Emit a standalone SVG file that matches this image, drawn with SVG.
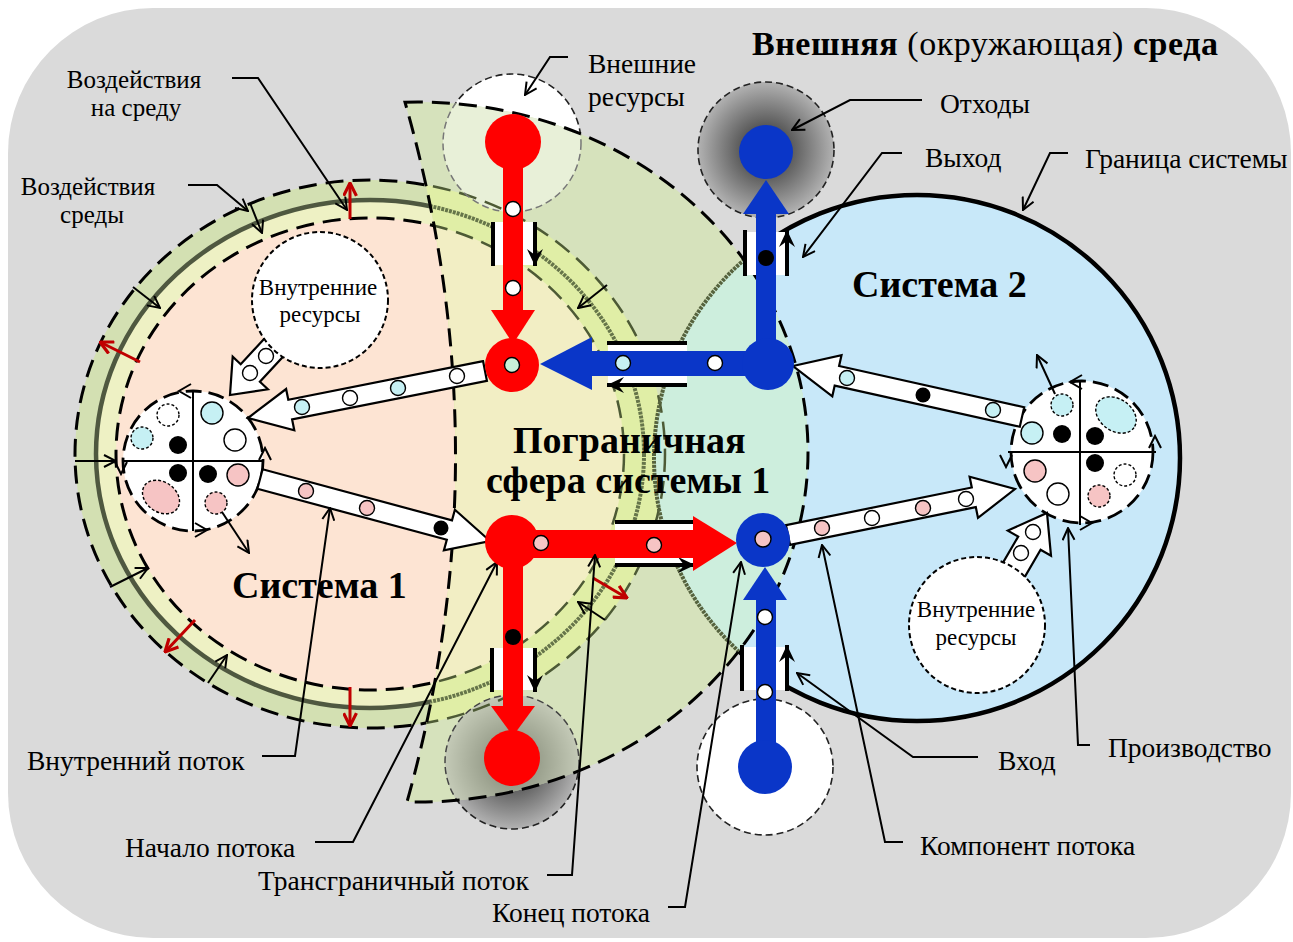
<svg xmlns="http://www.w3.org/2000/svg" width="1293" height="942" viewBox="0 0 1293 942">
<defs>
<style>
.lbl{font-family:"Liberation Serif","Times New Roman",serif;font-size:27.5px;fill:#000}
.lb2{font-family:"Liberation Serif","Times New Roman",serif;font-size:25px;fill:#000}
.res{font-family:"Liberation Serif","Times New Roman",serif;font-size:23px;fill:#000}
.bold{font-family:"Liberation Serif","Times New Roman",serif;font-weight:bold;font-size:38px;fill:#000}
.lead{fill:none;stroke:#000;stroke-width:2;marker-end:url(#arrV)}
.red{fill:none;stroke:#c00000;stroke-width:3;marker-end:url(#arrR)}
.par{fill:none;stroke:#000;stroke-width:4;marker-end:url(#arrT)}
.blk{fill:#fff;stroke:#000;stroke-width:2.2;stroke-linejoin:miter}
.sm{stroke:#000;stroke-width:1.4}
.w{fill:#fff}.c{fill:#c6f0f4}.p{fill:#f6c4c4}.k{fill:#000}
.dd{stroke-dasharray:3 2}
.rot{fill:none;stroke:#000;stroke-width:2}
.proc{fill:#fff;stroke:#000;stroke-width:2.8;stroke-dasharray:16 7}
.ires{fill:#fff;stroke:#000;stroke-width:2;stroke-dasharray:5 3}
.ext{stroke:#222;stroke-width:1.6;stroke-dasharray:7 4}
.rd{fill:#ff0000}.bl{fill:#0a36c8}
</style>
<marker id="arrV" viewBox="0 0 14 14" refX="13" refY="7" markerWidth="14" markerHeight="14" markerUnits="userSpaceOnUse" orient="auto"><path d="M1,1 L13,7 L1,13" fill="none" stroke="#000" stroke-width="2"/></marker>
<marker id="arrR" viewBox="0 0 14 14" refX="13" refY="7" markerWidth="15" markerHeight="15" markerUnits="userSpaceOnUse" orient="auto"><path d="M1,1 L13,7 L1,13" fill="none" stroke="#c00000" stroke-width="3"/></marker>
<marker id="arrT" viewBox="0 0 18 18" refX="17" refY="9" markerWidth="18" markerHeight="18" markerUnits="userSpaceOnUse" orient="auto"><path d="M0,1 L17,9 L0,17 L6,9 Z" fill="#000"/></marker>
<radialGradient id="waste" cx="0.5" cy="0.5" r="0.5"><stop offset="0" stop-color="#262626"/><stop offset="0.5" stop-color="#6c6c6c"/><stop offset="1" stop-color="#b2b2b2"/></radialGradient>
<clipPath id="sph"><path d="M405,102.2 A390,350 0 0,1 808,452 A390,350 0 0,1 407,801.9 Q505,452 405,102.2 Z"/></clipPath>
</defs>

<rect width="1293" height="942" fill="#fff"/>
<rect id="environment" x="8" y="8" width="1283" height="930" rx="145" ry="145" fill="#dadada"/>

<g id="system1">
<ellipse cx="370" cy="454" rx="295" ry="274" fill="#d3e0b2"/>
<ellipse cx="370" cy="454" rx="274" ry="254" fill="#eef1c4"/>
<ellipse cx="370" cy="454" rx="254" ry="236" fill="#fde4d3"/>
<ellipse cx="370" cy="454" rx="274" ry="254" fill="none" stroke="#4f5840" stroke-width="4.5"/>
<ellipse cx="370" cy="454" rx="295" ry="274" fill="none" stroke="#000" stroke-width="3" stroke-dasharray="18 9"/>
<ellipse cx="370" cy="454" rx="254" ry="236" fill="none" stroke="#000" stroke-width="3" stroke-dasharray="18 9"/>
</g>

<g id="system2">
<circle cx="917" cy="458" r="263" fill="#c8e8f9" stroke="#000" stroke-width="4.5"/>
</g>

<g id="external-resources">
<circle cx="512" cy="143" r="69" fill="#fff" class="ext"/>
</g>
<g id="waste-top">
<circle cx="766" cy="150" r="68" fill="url(#waste)" class="ext"/>
</g>
<g id="waste-bottom">
<circle cx="512" cy="762" r="67" fill="url(#waste)" class="ext"/>
</g>
<g id="input-resources">
<circle cx="765" cy="767" r="68" fill="#fff" class="ext"/>
</g>

<g id="boundary-sphere">
<g clip-path="url(#sph)">
<rect x="0" y="0" width="1293" height="942" fill="#d6e2bc"/>
<ellipse cx="370" cy="454" rx="295" ry="274" fill="#e0eea6"/>
<ellipse cx="370" cy="454" rx="254" ry="236" fill="#f2eec4"/>
<circle cx="917" cy="458" r="263" fill="#cdeedd"/>
<circle cx="512" cy="143" r="69" fill="#e8f0d8"/>
<circle cx="512" cy="762" r="67" fill="url(#waste)"/>
<circle cx="512" cy="762" r="67" fill="#d6e2bc" opacity="0.5"/>
<ellipse cx="370" cy="454" rx="274" ry="254" fill="none" stroke="#66754a" stroke-width="4" stroke-dasharray="3 1"/>
<ellipse cx="370" cy="454" rx="295" ry="274" fill="none" stroke="#4d5a35" stroke-width="2.5" stroke-dasharray="18 9"/>
<ellipse cx="370" cy="454" rx="254" ry="236" fill="none" stroke="#4d5a35" stroke-width="2.5" stroke-dasharray="18 9"/>
<circle cx="917" cy="458" r="263" fill="none" stroke="#56633e" stroke-width="4" stroke-dasharray="3 1"/>
<circle cx="512" cy="143" r="69" fill="none" stroke="#777" stroke-width="1.5" stroke-dasharray="7 4"/>
<circle cx="512" cy="762" r="67" fill="none" stroke="#444" stroke-width="1.5" stroke-dasharray="7 4"/>
</g>
<path d="M405,102.2 A390,350 0 0,1 808,452 A390,350 0 0,1 407,801.9 Q505,452 405,102.2 Z" fill="none" stroke="#000" stroke-width="3" stroke-dasharray="18 9"/>
</g>

<g id="process1">
<circle cx="193" cy="461" r="70" class="proc"/>
<path d="M123,461 H263 M193,391 V531" stroke="#000" stroke-width="2"/>
<path class="rot" d="M191,384 L179,391 L191,398 M259,460 L265,448 L271,460 M195,523 L207,530 L195,537 M115,462 L121,474 L127,462"/>
<circle cx="168" cy="415" r="11" class="w sm dd"/>
<circle cx="142" cy="438" r="11" class="c sm dd"/>
<circle cx="178" cy="445" r="9" class="k"/>
<circle cx="212" cy="413" r="11" class="c sm"/>
<circle cx="235" cy="440" r="11" class="w sm"/>
<circle cx="178" cy="473" r="9" class="k"/>
<ellipse cx="161" cy="497" rx="20" ry="15" transform="rotate(35 161 497)" class="p sm dd"/>
<circle cx="208" cy="474" r="9" class="k"/>
<circle cx="238" cy="475" r="11" class="p sm"/>
<circle cx="216" cy="503" r="11" class="p sm dd"/>
<path class="lead" d="M222,512 L249,553"/>
</g>

<g id="process2">
<circle cx="1082" cy="452" r="71" class="proc"/>
<path d="M1008,452 H1156 M1080,380 V525" stroke="#000" stroke-width="2"/>
<path class="rot" d="M1082,375 L1070,382 L1082,389 M1149,448 L1155,436 L1161,448 M1080,516 L1092,523 L1080,530 M1000,455 L1006,467 L1012,455"/>
<circle cx="1062" cy="405" r="11" class="c sm dd"/>
<circle cx="1032" cy="433" r="11" class="c sm"/>
<circle cx="1062" cy="434" r="9" class="k"/>
<ellipse cx="1116" cy="415" rx="22" ry="16" transform="rotate(35 1116 415)" class="c sm dd"/>
<circle cx="1095" cy="436" r="9" class="k"/>
<circle cx="1035" cy="471" r="11" class="p sm"/>
<circle cx="1058" cy="494" r="11" class="w sm"/>
<circle cx="1095" cy="463" r="9" class="k"/>
<circle cx="1125" cy="475" r="11" class="w sm dd"/>
<circle cx="1099" cy="496" r="11" class="p sm dd"/>
<path class="lead" d="M1055,394 L1037,355"/>
</g>

<g id="connectors">
<polygon class="blk" points="268.4,334.2 240.7,364.2 232.7,356.7 230,395 267.9,389.3 259.9,381.8 287.6,351.8"/>
<circle cx="266" cy="356" r="7.5" class="w sm"/>
<circle cx="250" cy="373" r="7.5" class="w sm"/>
<polygon class="blk" points="1016.2,591.6 1040.6,549.8 1051,555.8 1047,513 1007.8,530.6 1018.2,536.6 993.8,578.4"/>
<circle cx="1021" cy="553" r="7.5" class="w sm"/>
<circle cx="1033" cy="532" r="7.5" class="w sm"/>
<polygon class="blk" points="483.1,361.2 288.3,399.8 286.1,389.0 248,418 294.3,430.2 292.1,419.4 486.9,380.8"/>
<circle cx="302" cy="407" r="7.5" class="c sm"/>
<circle cx="350" cy="398" r="7.5" class="w sm"/>
<circle cx="398" cy="388" r="7.5" class="c sm"/>
<circle cx="457" cy="376" r="7.5" class="w sm"/>
<polygon class="blk" points="257.4,488.7 446.8,539.8 443.9,550.4 490,541 454.9,509.8 452.0,520.4 262.6,469.3"/>
<circle cx="306" cy="491" r="7.5" class="p sm"/>
<circle cx="367" cy="508" r="7.5" class="p sm"/>
<circle cx="441" cy="528" r="7.5" class="k"/>
<polygon class="blk" points="1024.2,407.2 839.1,366.0 841.5,355.3 793,366 832.3,396.3 834.7,385.6 1019.8,426.8"/>
<circle cx="993" cy="410" r="7.5" class="c sm"/>
<circle cx="923" cy="395" r="7.5" class="k"/>
<circle cx="847" cy="378" r="7.5" class="c sm"/>
<polygon class="blk" points="790.0,544.8 975.8,507.1 978,517.9 1015,489 969.6,476.7 971.8,487.5 786.0,525.2"/>
<circle cx="822" cy="528" r="7.5" class="p sm"/>
<circle cx="872" cy="518" r="7.5" class="w sm"/>
<circle cx="923" cy="508" r="7.5" class="p sm"/>
<circle cx="966" cy="499" r="7.5" class="w sm"/>

<rect x="493" y="222" width="42" height="43" fill="#fff"/>
<rect x="745" y="232" width="42" height="43" fill="#fff"/>
<rect x="608" y="343" width="79" height="42" fill="#fff"/>
<rect x="615" y="522" width="78" height="43" fill="#fff"/>
<rect x="492" y="648" width="43" height="42" fill="#fff"/>
<rect x="742" y="647" width="45" height="43" fill="#fff"/>
<path class="par" d="M493,222 V266 M535,222 V266"/>
<path class="par" d="M745,276 V230 M787,276 V230"/>
<path class="par" d="M687,343 H607 M687,385 H607"/>
<path class="par" d="M615,522 H695 M615,565 H695"/>
<path class="par" d="M492,648 V692 M535,648 V692"/>
<path class="par" d="M742,691 V645 M787,691 V645"/>

<rect x="503" y="142" width="20" height="172" class="rd"/>
<polygon points="491,310 535,310 513,344" class="rd"/>
<rect x="756" y="200" width="20" height="164" class="bl"/>
<polygon points="743,214 789,214 766,180" class="bl"/>
<rect x="588" y="351" width="180" height="25" class="bl"/>
<polygon points="592,337 592,390 540,364" class="bl"/>
<rect x="512" y="530" width="183" height="28" class="rd"/>
<polygon points="693,516 693,571 737,543" class="rd"/>
<rect x="503" y="542" width="20" height="166" class="rd"/>
<polygon points="491,706 535,706 513,736" class="rd"/>
<rect x="756" y="600" width="20" height="167" class="bl"/>
<polygon points="743,600 787,600 765,567" class="bl"/>

<path class="red" d="M350,219 V183"/>
<path class="red" d="M140,362 L100,342"/>
<path class="red" d="M195,620 L165,652"/>
<path class="red" d="M350,687 V726"/>
<path class="red" d="M593,578 L627,598"/>
<path class="lead" d="M250,203 L262,233"/>
<path class="lead" d="M133,287 L160,308"/>
<path class="lead" d="M75,461 H116"/>
<path class="lead" d="M110,587 L148,568"/>
<path class="lead" d="M208,683 L227,655"/>
<path class="lead" d="M607,285 L578,308"/>
<path class="lead" d="M605,620 L578,602"/>

<path class="lead" d="M232,78 H258 L347,210"/>
<path class="lead" d="M188,185 H217 L248,211"/>
<path class="lead" d="M568,57 H550 L525,95"/>
<path class="lead" d="M922,100 H850 L792,130"/>
<path class="lead" d="M902,153 H882 L803,257"/>
<path class="lead" d="M1068,153 H1050 L1023,210"/>
<path class="lead" d="M1090,745 H1078 L1068,528"/>
<path class="lead" d="M978,757 H913 L797,673"/>
<path class="lead" d="M903,842 H885 L822,545"/>
<path class="lead" d="M668,907 H685 L741,562"/>
<path class="lead" d="M547,875 H572 L595,555"/>
<path class="lead" d="M315,842 H353 L497,562"/>
<path class="lead" d="M262,756 H295 L330,508"/>
</g>

<g id="nodes">
<circle cx="513" cy="142" r="28" class="rd"/>
<circle cx="512" cy="365" r="27" class="rd"/>
<circle cx="512" cy="365" r="7.5" fill="#c8f0d8" class="sm"/>
<circle cx="512" cy="542" r="27" class="rd"/>
<circle cx="512" cy="758" r="28" class="rd"/>
<circle cx="766" cy="152" r="27" class="bl"/>
<circle cx="768" cy="364" r="26" class="bl"/>
<circle cx="763" cy="540" r="27" class="bl"/>
<circle cx="763" cy="539" r="8" class="p sm"/>
<circle cx="765" cy="767" r="27" class="bl"/>
<circle cx="513" cy="209" r="7.5" class="w sm"/>
<circle cx="513" cy="288" r="7.5" class="w sm"/>
<circle cx="623" cy="363" r="7.5" class="c sm"/>
<circle cx="715" cy="363" r="7.5" class="w sm"/>
<circle cx="541" cy="543" r="7.5" class="p sm"/>
<circle cx="654" cy="545" r="7.5" class="p sm"/>
<circle cx="765" cy="617" r="7.5" class="w sm"/>
<circle cx="765" cy="692" r="7.5" class="w sm"/>
<circle cx="766" cy="258" r="8" class="k"/>
<circle cx="513" cy="637" r="8" class="k"/>
</g>

<g id="internal-resources-1">
<circle cx="320" cy="300" r="68" class="ires"/>
<text class="res" x="318" y="295" text-anchor="middle">Внутренние</text>
<text class="res" x="320" y="322" text-anchor="middle">ресурсы</text>
</g>
<g id="internal-resources-2">
<circle cx="977" cy="625" r="68" class="ires"/>
<text class="res" x="976" y="617" text-anchor="middle">Внутренние</text>
<text class="res" x="976" y="645" text-anchor="middle">ресурсы</text>
</g>

<g id="labels">
<text x="752" y="55" textLength="466" style="font-family:'Liberation Serif','Times New Roman',serif;font-size:34px"><tspan font-weight="bold">Внешняя</tspan> (окружающая) <tspan font-weight="bold">среда</tspan></text>
<text class="bold" x="232" y="598">Система 1</text>
<text class="bold" x="852" y="297">Система 2</text>
<text class="bold" x="513" y="453">Пограничная</text>
<text class="bold" x="486" y="493">сфера системы 1</text>
<text class="lb2" x="134" y="88" text-anchor="middle">Воздействия</text>
<text class="lb2" x="136" y="116" text-anchor="middle">на среду</text>
<text class="lb2" x="88" y="195" text-anchor="middle">Воздействия</text>
<text class="lb2" x="92" y="223" text-anchor="middle">среды</text>
<text class="lbl" x="588" y="73">Внешние</text>
<text class="lbl" x="588" y="106">ресурсы</text>
<text class="lbl" x="940" y="113">Отходы</text>
<text class="lbl" x="925" y="167">Выход</text>
<text class="lbl" x="1085" y="168">Граница системы</text>
<text class="lbl" x="1108" y="757">Производство</text>
<text class="lbl" x="998" y="770">Вход</text>
<text class="lbl" x="920" y="855">Компонент потока</text>
<text class="lbl" x="492" y="922">Конец потока</text>
<text class="lbl" x="258" y="890">Трансграничный поток</text>
<text class="lbl" x="125" y="857">Начало потока</text>
<text class="lbl" x="27" y="770">Внутренний поток</text>
</g>
</svg>
